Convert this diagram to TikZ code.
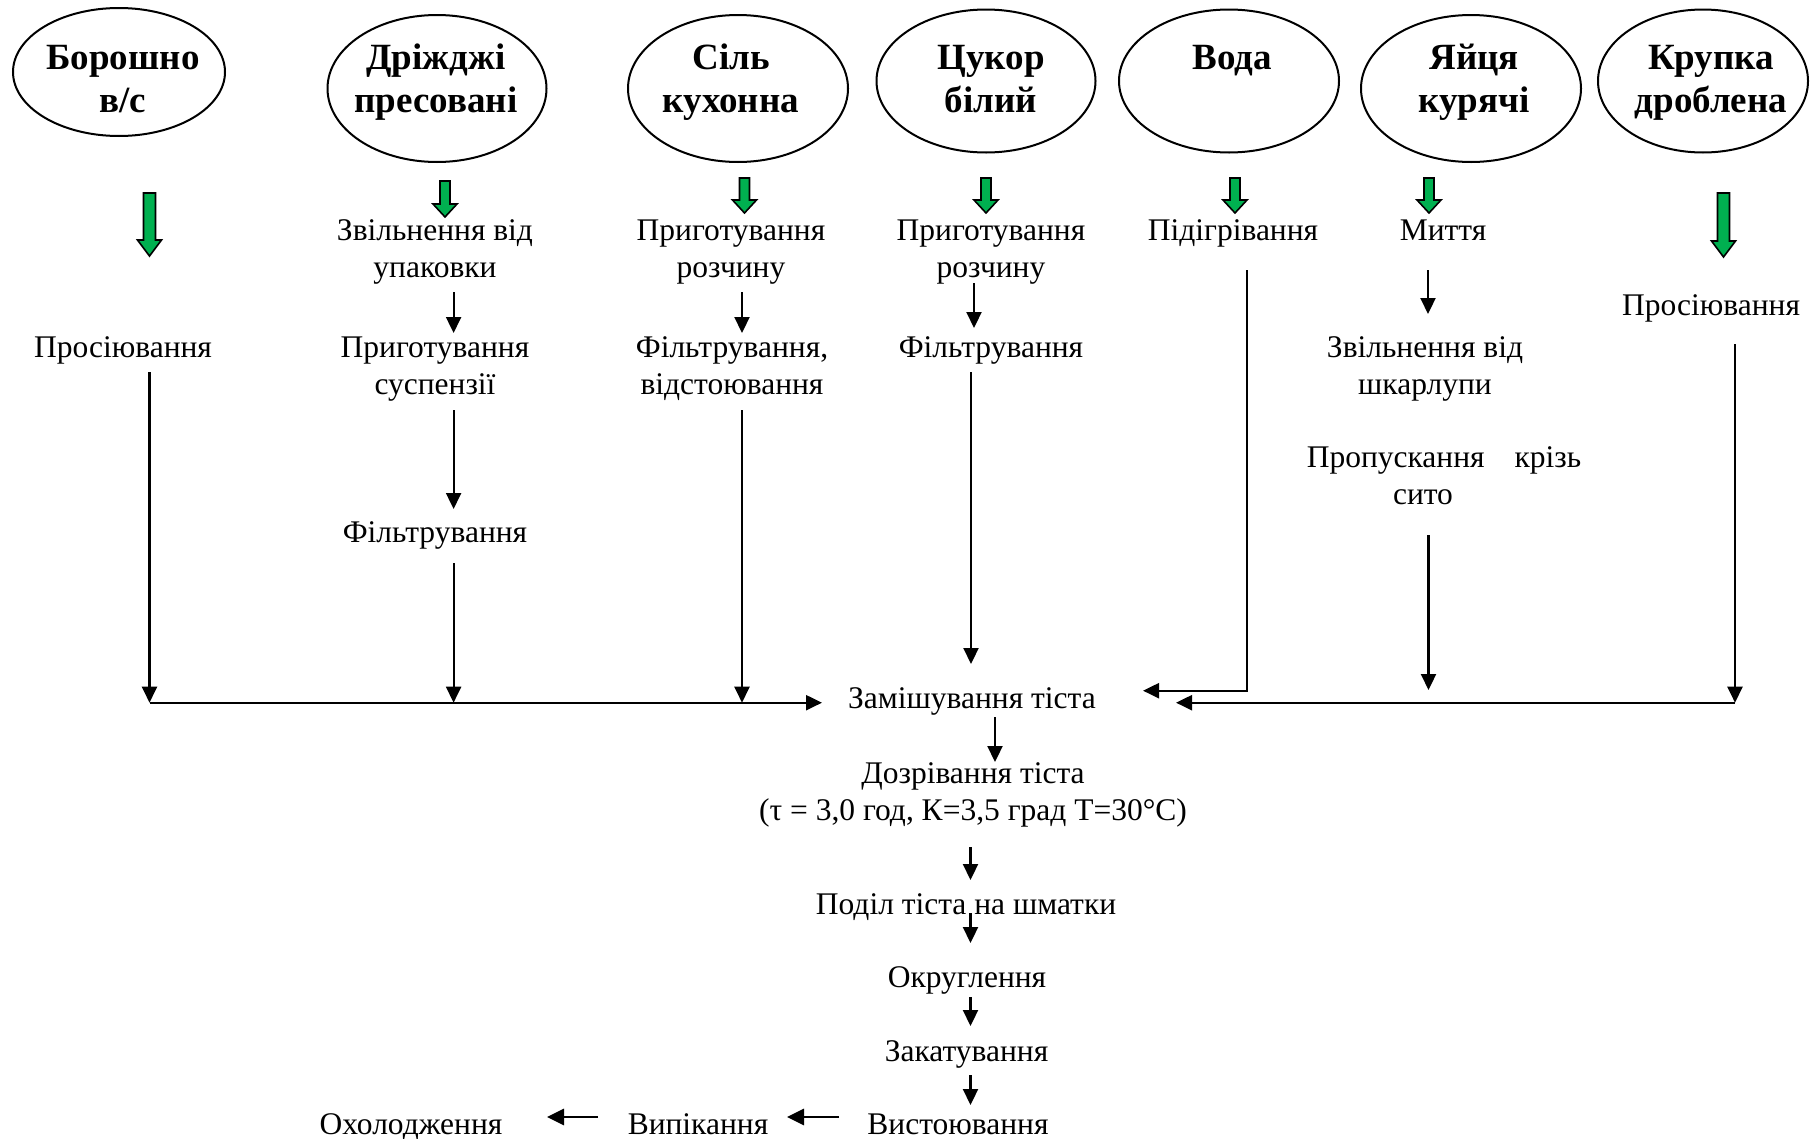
\documentclass[tikz,border=0pt]{standalone}
\usepackage{fontspec}
\setmainfont{Liberation Serif}
\usetikzlibrary{shapes.geometric,arrows.meta}
\definecolor{wgreen}{RGB}{0,176,80}
\newcommand\greenblockarrow[6]{%
  \draw[garr] ({#1-#4},#2) -- ({#1+#4},#2) -- ({#1+#4},{#3-#6}) -- ({#1+#5},{#3-#6}) -- (#1,#3) -- ({#1-#5},{#3-#6}) -- ({#1-#4},{#3-#6}) -- cycle;}
\begin{document}
\begin{tikzpicture}[x=1pt,y=-1pt,
  txt/.style={font=\fontsize{31.5}{37}\selectfont, inner sep=0pt, anchor=base, align=center},
  btxt/.style={font=\fontsize{37}{43}\selectfont\bfseries, inner sep=0pt, anchor=base, align=center},
  ell/.style={draw, ellipse, line width=2pt, inner sep=0pt},
  arr/.style={line width=2.2pt, -{Triangle[length=16pt,width=15pt]}},
  barr/.style={line width=2.8pt, -{Triangle[length=17pt,width=16pt]}},
  ln/.style={line width=2.2pt},
  garr/.style={draw=black, line width=1.6pt, fill=wgreen, line join=miter}
]
\useasboundingbox (0,0) rectangle (1810,1138);

% ellipses
\node[ell, minimum width=212pt, minimum height=128pt] (e1) at (119,72) {};
\node[ell, minimum width=219pt, minimum height=147pt] (e2) at (437,88.5) {};
\node[ell, minimum width=220pt, minimum height=147pt] (e3) at (738,88.5) {};
\node[ell, minimum width=219pt, minimum height=143pt] (e4) at (986,81) {};
\node[ell, minimum width=220pt, minimum height=143pt] (e5) at (1229,81) {};
\node[ell, minimum width=220pt, minimum height=147pt] (e6) at (1471,88.5) {};
\node[ell, minimum width=210pt, minimum height=143pt] (e7) at (1703,81) {};

% ellipse texts (base anchor = baseline of the last line)
\node[btxt] (t1) at (123,112) {Борошно\\в/с};
\node[btxt] (t2) at (436,112) {Дріжджі\\пресовані};
\node[btxt] (t3) at (731,112) {Сіль\\кухонна};
\node[btxt] (t4) at (991,112) {Цукор\\білий};
\node[btxt] (t5) at (1232,69) {Вода};
\node[btxt] (t6) at (1474,112) {Яйця\\курячі};
\node[btxt] (t7) at (1711,112) {Крупка\\дроблена};

% green block arrows
\greenblockarrow{149.5}{193}{256}{6}{12}{16}
\greenblockarrow{445}{181}{217}{5}{12}{13}
\greenblockarrow{744.5}{178}{213}{5}{12}{13}
\greenblockarrow{986}{178}{213}{5}{12}{13}
\greenblockarrow{1235}{178}{213}{5}{12}{13}
\greenblockarrow{1429}{178}{213}{5}{12}{13}
\greenblockarrow{1723.5}{193}{257}{6}{12}{16}

% process texts
\node[txt] (a1) at (123,357) {Просіювання};
\node[txt] (a2) at (435,277) {Звільнення від\\упаковки};
\node[txt] (b2) at (435,394) {Приготування\\суспензії};
\node[txt] (c2) at (435,542) {Фільтрування};
\node[txt] (a3) at (731,277) {Приготування\\розчину};
\node[txt] (b3) at (732,394) {Фільтрування,\\відстоювання};
\node[txt] (a4) at (991,277) {Приготування\\розчину};
\node[txt] (b4) at (991,357) {Фільтрування};
\node[txt] (a5) at (1233,240) {Підігрівання};
\node[txt] (a6) at (1443,240) {Миття};
\node[txt] (b6) at (1425,394) {Звільнення від\\шкарлупи};
\node[txt] (c6) at (1444,504) {Пропускання\hspace{30pt}крізь\\сито\hspace{42pt}\null};
\node[txt] (a7) at (1711,315) {Просіювання};

\node[txt] (m1) at (972,708) {Замішування тіста};
\node[txt] (m2) at (973,820) {Дозрівання тіста\\(τ = 3,0 год, К=3,5 град Т=30°С)};
\node[txt] (m3) at (966,914) {Поділ тіста на шматки};
\node[txt] (m4) at (967,987.5) {Округлення};
\node[txt] (m5) at (966.5,1061) {Закатування};
\node[txt] (m6) at (958,1134) {Вистоювання};
\node[txt] (m7) at (698,1134) {Випікання};
\node[txt] (m8) at (411,1134) {Охолодження};

% connector end points
\coordinate (c1s) at (149.5,372);
\coordinate (c1j) at (149.5,702.7);
\coordinate (jL) at (822,702.7);
\coordinate (c2s1) at (453.6,292);  \coordinate (c2e1) at (453.6,333);
\coordinate (c2s2) at (453.6,410);  \coordinate (c2e2) at (453.6,509);
\coordinate (c2s3) at (453.6,563);  \coordinate (c2j) at (453.6,702.7);
\coordinate (c3s1) at (742,292);    \coordinate (c3e1) at (742,333);
\coordinate (c3s2) at (742,410);    \coordinate (c3j) at (742,702.7);
\coordinate (c4s1) at (974,283);    \coordinate (c4e1) at (974,328);
\coordinate (c4s2) at (971,372);    \coordinate (c4e2) at (971,664);
\coordinate (c5s) at (1247,270);    \coordinate (c5k) at (1247,690.7);
\coordinate (c5e) at (1143,690.7);
\coordinate (c6s1) at (1428,270);   \coordinate (c6e1) at (1428,314);
\coordinate (c6s2) at (1428.5,535); \coordinate (c6e2) at (1428.5,690);
\coordinate (c7s) at (1735,344);    \coordinate (c7j) at (1735,702.7);
\coordinate (jR) at (1176,702.7);
\coordinate (k1s) at (995,717);     \coordinate (k1e) at (995,762);
\coordinate (k2s) at (970.5,847);   \coordinate (k2e) at (970.5,880);
\coordinate (k3s) at (970.5,913);   \coordinate (k3e) at (970.5,943);
\coordinate (k4s) at (970.5,997);   \coordinate (k4e) at (970.5,1026);
\coordinate (k5s) at (970.5,1075);  \coordinate (k5e) at (970.5,1105);
\coordinate (k6s) at (839,1117);    \coordinate (k6e) at (787,1117);
\coordinate (k7s) at (598,1117);    \coordinate (k7e) at (547,1117);

% connectors
\draw[arr] (c1s) -- (c1j);
\draw[arr] (c1j) -- (jL);
\draw[arr] (c2s1) -- (c2e1);
\draw[arr] (c2s2) -- (c2e2);
\draw[arr] (c2s3) -- (c2j);
\draw[arr] (c3s1) -- (c3e1);
\draw[arr] (c3s2) -- (c3j);
\draw[arr] (c4s1) -- (c4e1);
\draw[arr] (c4s2) -- (c4e2);
\draw[arr] (c5s) -- (c5k) -- (c5e);
\draw[arr] (c6s1) -- (c6e1);
\draw[arr] (c6s2) -- (c6e2);
\draw[arr] (c7s) -- (c7j);
\draw[arr] (c7j) -- (jR);
\draw[arr] (k1s) -- (k1e);
\draw[arr] (k2s) -- (k2e);
\draw[arr] (k3s) -- (k3e);
\draw[arr] (k4s) -- (k4e);
\draw[arr] (k5s) -- (k5e);
\draw[barr] (k6s) -- (k6e);
\draw[barr] (k7s) -- (k7e);
\end{tikzpicture}
\end{document}
